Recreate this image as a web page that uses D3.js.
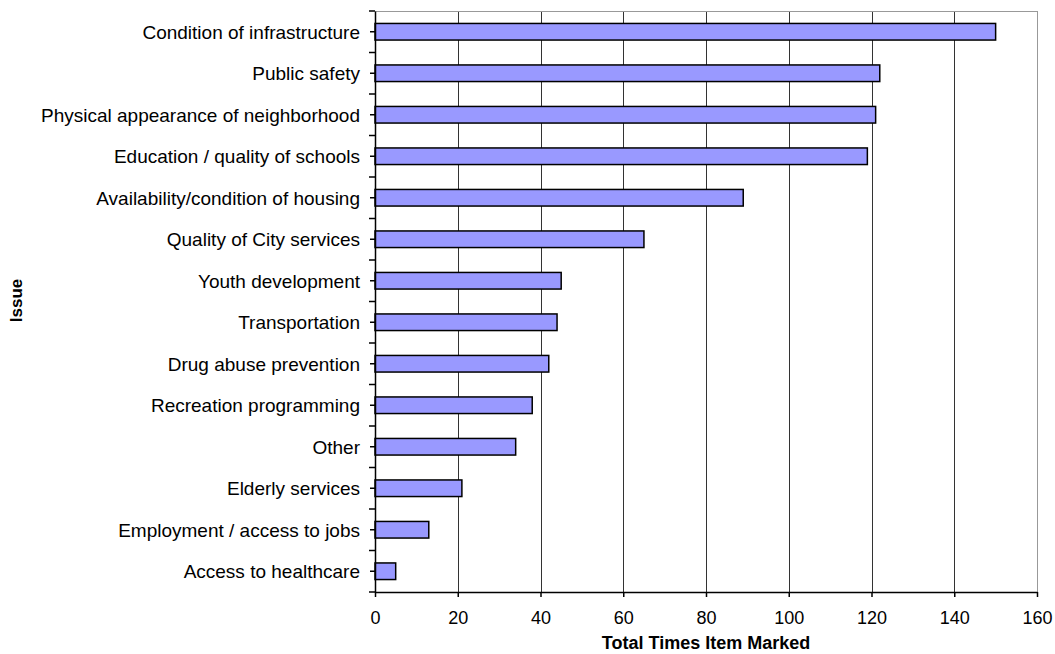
<!DOCTYPE html>
<html><head><meta charset="utf-8">
<script src="https://cdn.jsdelivr.net/npm/d3@7"></script>
<style>body{margin:0;background:#fff}svg{display:block}text{font-family:"Liberation Sans",Arial,sans-serif;fill:#000}</style>
</head><body><svg id="c" width="1055" height="654"></svg>
<script>
const categories = ["Condition of infrastructure","Public safety","Physical appearance of neighborhood","Education / quality of schools","Availability/condition of housing","Quality of City services","Youth development","Transportation","Drug abuse prevention","Recreation programming","Other","Elderly services","Employment / access to jobs","Access to healthcare"];
const values = [150,122,121,119,89,65,45,44,42,38,34,21,13,5];
const xTicks = [0,20,40,60,80,100,120,140,160];
const xTitle = "Total Times Item Marked";
const yTitle = "Issue";

const svg = d3.select("#c");
const L=375, R=1037, T=11, B=592;
const x = d3.scaleLinear().domain([0,160]).range([L,R]);
const yb = d3.scaleBand().domain(categories).range([T,B]);

// gridlines
svg.append("g").selectAll("line").data(xTicks.slice(1)).join("line")
  .attr("x1",d=>Math.round(x(d))+0.5).attr("x2",d=>Math.round(x(d))+0.5)
  .attr("y1",T).attr("y2",B).attr("stroke",d=>d===160?"#999":"#333").attr("stroke-width",1);
// top border
svg.append("line").attr("x1",L).attr("x2",Math.round(x(160))+0.5).attr("y1",T+0.5).attr("y2",T+0.5).attr("stroke","#999");

// bars
svg.append("g").selectAll("rect").data(values).join("rect")
  .attr("x",x(0)).attr("y",(d,i)=>yb(categories[i])+yb.bandwidth()/2-8.3)
  .attr("width",d=>x(d)-x(0)).attr("height",16.6)
  .attr("fill","#9999ff").attr("stroke","#000").attr("stroke-width",1.5);

// x axis
const xa = svg.append("g").attr("transform",`translate(0,${B})`)
  .call(d3.axisBottom(x).tickValues(xTicks).tickSize(5).tickSizeOuter(0).tickPadding(14));
xa.select(".domain").attr("stroke","#000").attr("stroke-width",1.5);
xa.selectAll(".tick line").attr("stroke","#000").attr("stroke-width",1.5);
xa.selectAll("text").attr("font-size",18).attr("font-family","Liberation Sans, Arial, sans-serif");

// y axis
const ya = svg.append("g").attr("transform",`translate(${L},0)`)
  .call(d3.axisLeft(yb).tickSize(5).tickSizeOuter(0).tickPadding(10));
ya.select(".domain").attr("stroke","#000").attr("stroke-width",1.5);
ya.selectAll(".tick line").attr("stroke","#000").attr("stroke-width",1.5);
ya.selectAll("text").attr("font-size",19).attr("dy","0.36em").attr("font-family","Liberation Sans, Arial, sans-serif");
// boundary ticks
const bounds = categories.map(c=>yb(c)).concat([B]);
svg.append("g").selectAll("line").data(bounds).join("line")
  .attr("x1",L-6).attr("x2",L).attr("y1",d=>d).attr("y2",d=>d)
  .attr("stroke","#000").attr("stroke-width",1.5);

// titles
svg.append("text").attr("x",(L+R)/2).attr("y",649).attr("text-anchor","middle")
  .attr("font-size",18).attr("font-weight","bold").text(xTitle);
svg.append("text").attr("transform",`translate(22,${(T+B)/2-1}) rotate(-90)`).attr("text-anchor","middle")
  .attr("font-size",17).attr("font-weight","bold").text(yTitle);
</script></body></html>
